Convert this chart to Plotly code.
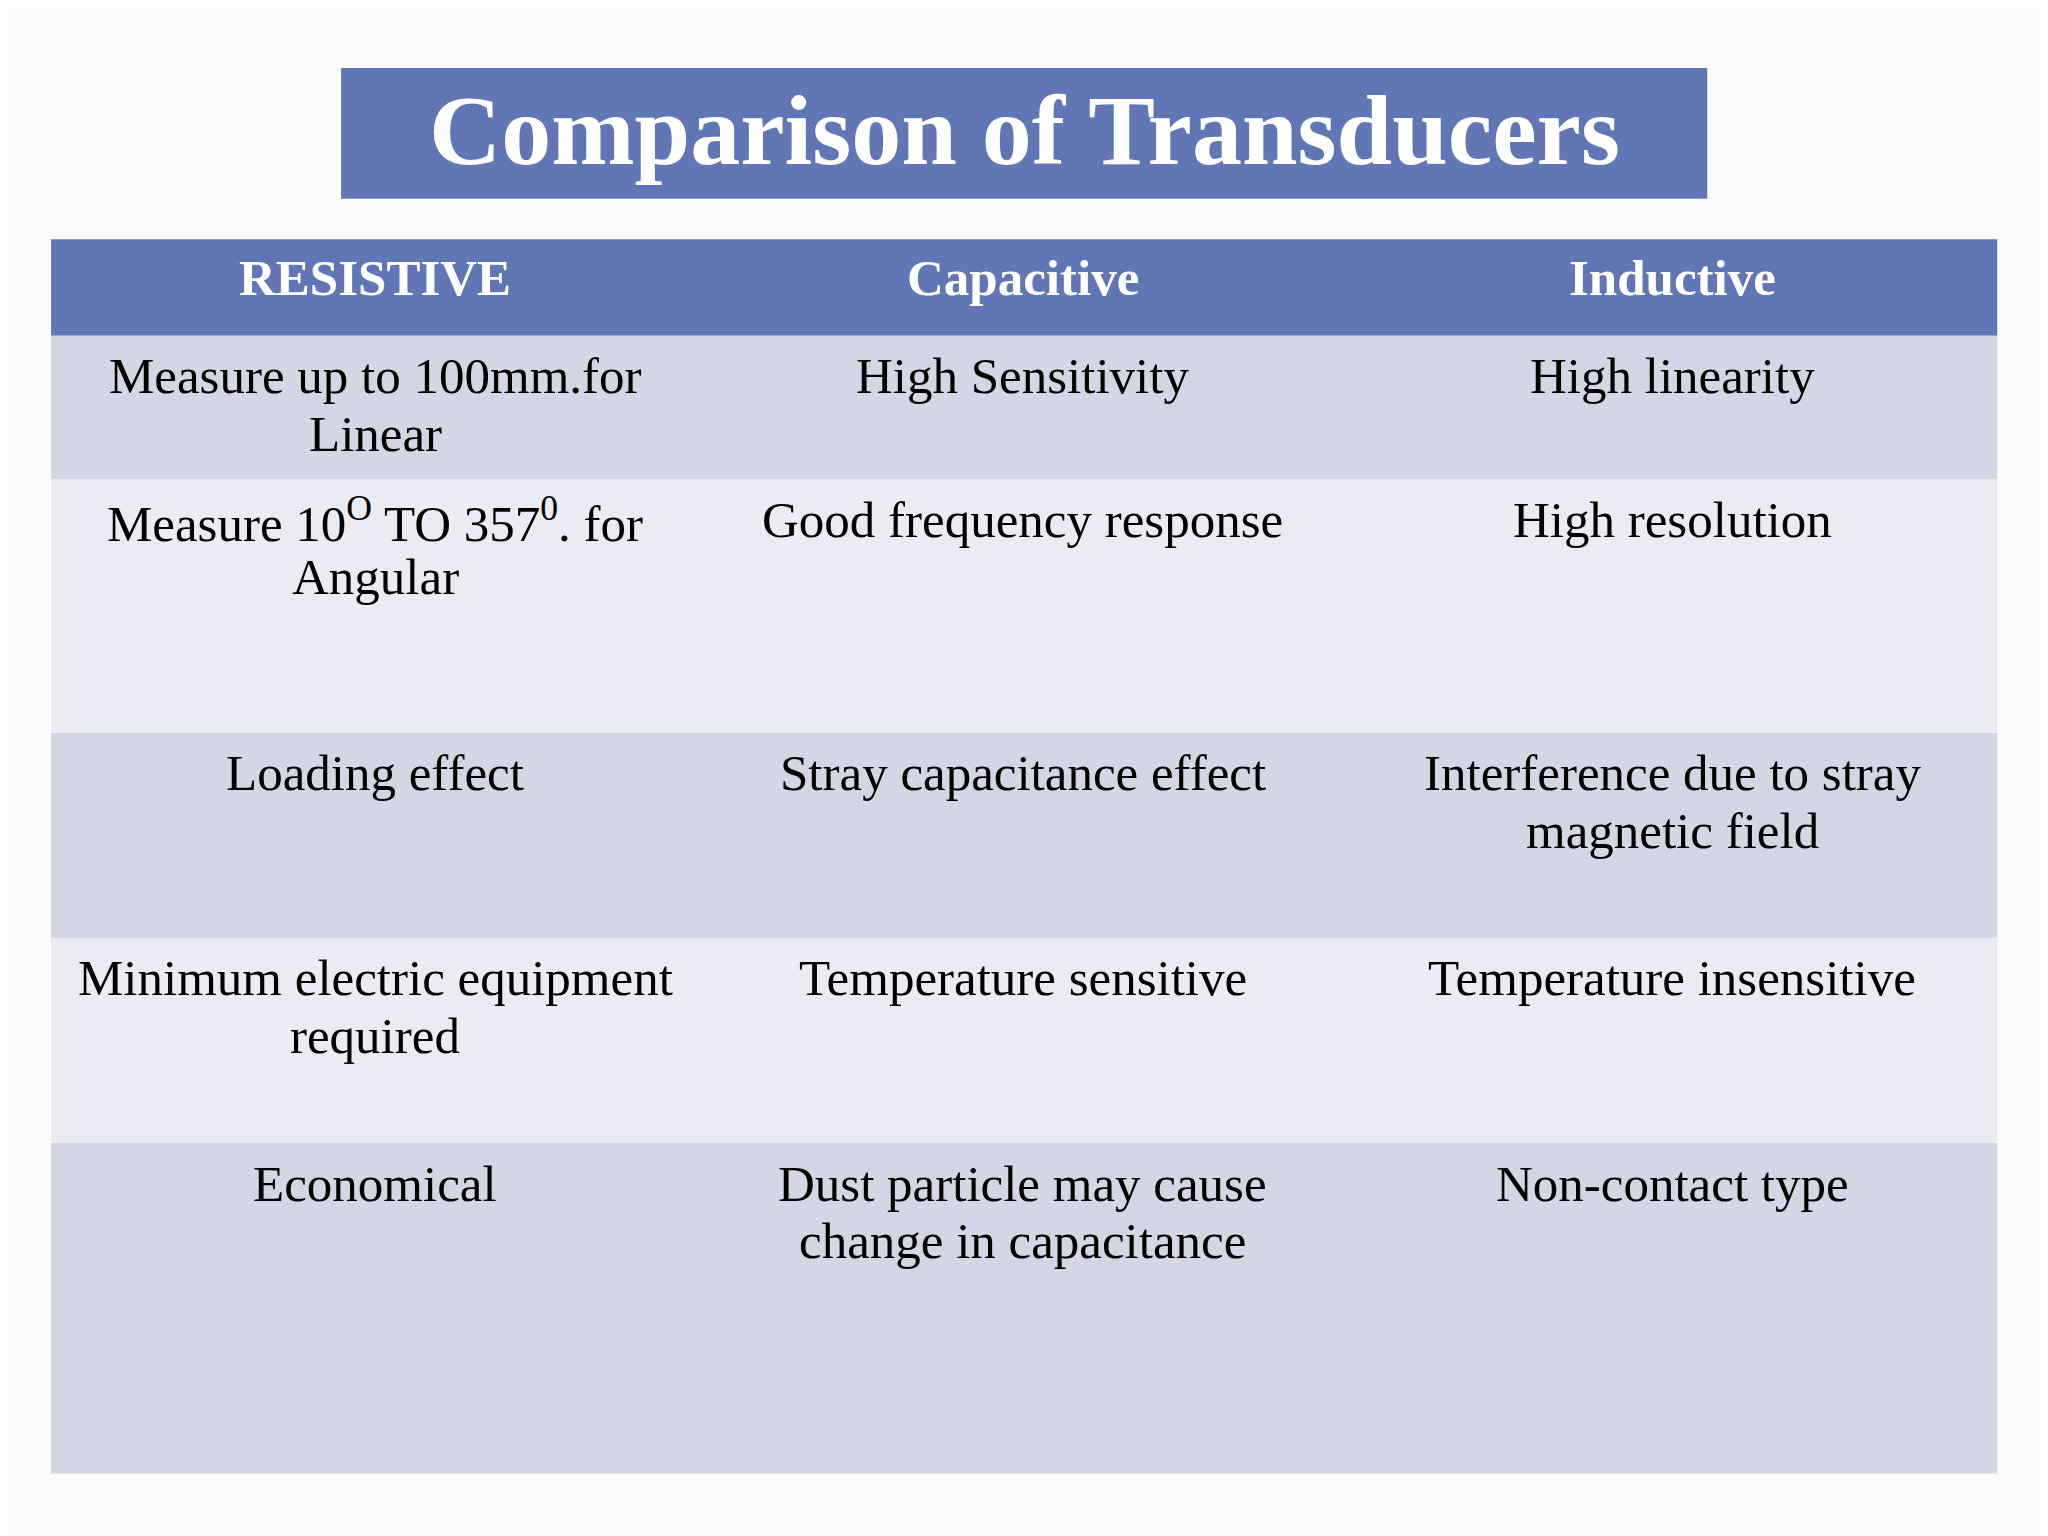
import plotly.graph_objects as go

title = "Comparison of Transducers"
headers = ["RESISTIVE", "Capacitive", "Inductive"]
resistive = ["Measure up to 100mm.for<br>Linear",
             "Measure 10<sup>O</sup> TO 357<sup>0</sup>. for<br>Angular",
             "Loading effect",
             "Minimum electric equipment<br>required",
             "Economical"]
capacitive = ["High Sensitivity",
              "Good frequency response",
              "Stray capacitance effect",
              "Temperature sensitive",
              "Dust particle may cause<br>change in capacitance"]
inductive = ["High linearity",
             "High resolution",
             "Interference due to stray<br>magnetic field",
             "Temperature insensitive",
             "Non-contact type"]

# layout in 1568x1176 units (scaled to the 2048x1536 page)
W, H = 1568, 1176
off = 6  # compensate page margin
row_edges = [257, 367, 561, 718, 875, 1128]
col_centers = [287, 783, 1280]
row_colors = ["#d3d6e4", "#ebebf3", "#d3d6e4", "#ebebf3", "#d3d6e4"]
serif = "Liberation Serif"

fig = go.Figure()
shapes = [
    dict(type="circle", x0=-300, x1=W + 300, y0=-300, y1=H + 300,
         fillcolor="white", line_width=0, layer="below", opacity=0.8),
    dict(type="rect", x0=261, x1=1307, y0=52, y1=152, fillcolor="#6177b5", line_width=0),
    dict(type="rect", x0=39, x1=1529, y0=183, y1=257, fillcolor="#6177b5", line_width=0),
]
for i, c in enumerate(row_colors):
    shapes.append(dict(type="rect", x0=39, x1=1529, y0=row_edges[i], y1=row_edges[i + 1],
                       fillcolor=c, line_width=0))

ann = [dict(x=784, y=100, text="<b>" + title + "</b>", showarrow=False,
            xanchor="center", yanchor="middle",
            font=dict(family=serif, size=100, color="white"))]
for x, h in zip(col_centers, headers):
    ann.append(dict(x=x, y=213, text="<b>" + h + "</b>", showarrow=False,
                    xanchor="center", yanchor="middle",
                    font=dict(family=serif, size=51, color="white")))

line_gap = 44
for x, col in zip(col_centers, [resistive, capacitive, inductive]):
    for r, txt in enumerate(col):
        for k, line in enumerate(txt.split("<br>")):
            ann.append(dict(x=x, y=row_edges[r] + 31 + k * line_gap, text=line, showarrow=False,
                            xanchor="center", yanchor="middle",
                            font=dict(family=serif, size=51, color="black")))

fig.update_layout(
    width=2048, height=1536, margin=dict(l=0, r=0, t=0, b=0),
    paper_bgcolor="#ececec", plot_bgcolor="rgba(0,0,0,0)",
    xaxis=dict(range=[off, W + off], visible=False, fixedrange=True),
    yaxis=dict(range=[H + off, off], visible=False, fixedrange=True),
    shapes=shapes, annotations=ann, showlegend=False,
)
fig.write_html("out.html")
